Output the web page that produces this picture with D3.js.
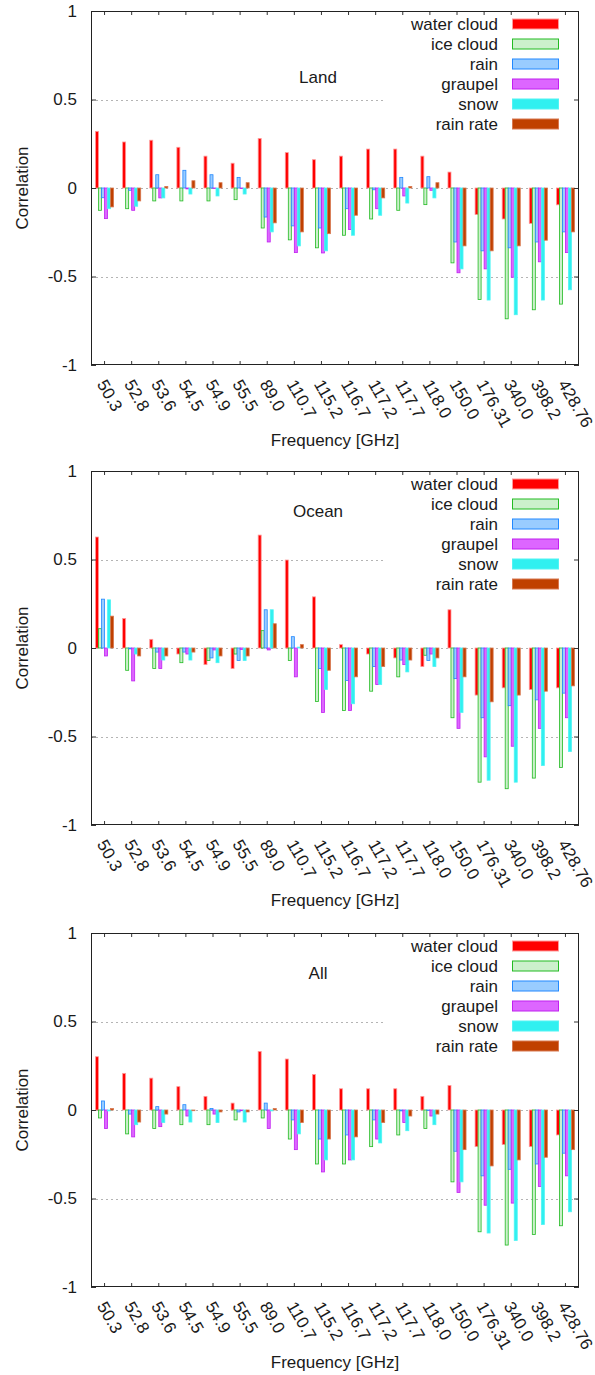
<!DOCTYPE html>
<html><head><meta charset="utf-8">
<script src="https://cdn.jsdelivr.net/npm/d3@7"></script>
<style>
html,body{margin:0;padding:0;background:#fff;}
svg{display:block;}
text{font-family:"Liberation Sans",Arial,Helvetica,sans-serif;fill:#1a1a1a;}
</style></head>
<body>
<svg id="chart" width="595" height="1375"></svg>
<script>
const categories = ["50.3","52.8","53.6","54.5","54.9","55.5","89.0","110.7","115.2","116.7","117.2","117.7","118.0","150.0","176.31","340.0","398.2","428.76"];
const seriesNames = ["water cloud","ice cloud","rain","graupel","snow","rain rate"];
const yTicks = [-1,-0.5,0,0.5,1];
const yTickLabels = ["-1","-0.5","0","0.5","1"];
const panelTitles = ["Land","Ocean","All"];

const landWater   = [0.32,0.26,0.27,0.23,0.18,0.14,0.28,0.20,0.16,0.18,0.22,0.22,0.18,0.09,-0.15,-0.175,-0.20,-0.095];
const landIce     = [-0.126,-0.117,-0.073,-0.073,-0.073,-0.066,-0.226,-0.293,-0.338,-0.267,-0.175,-0.126,-0.094,-0.423,-0.63,-0.739,-0.688,-0.656];
const landRain    = [-0.055,-0.013,0.075,0.10,0.075,0.06,-0.164,-0.214,-0.226,-0.117,-0.01,0.06,0.064,-0.305,-0.355,-0.338,-0.305,-0.248];
const landGraupel = [-0.173,-0.126,-0.056,-0.005,-0.003,-0.003,-0.305,-0.365,-0.367,-0.235,-0.117,-0.045,-0.013,-0.479,-0.457,-0.504,-0.417,-0.365];
const landSnow    = [-0.117,-0.103,-0.056,-0.034,-0.045,-0.034,-0.248,-0.327,-0.355,-0.267,-0.154,-0.085,-0.056,-0.457,-0.633,-0.716,-0.633,-0.575];
const landRate    = [-0.107,-0.073,0.009,0.041,0.03,0.03,-0.197,-0.248,-0.258,-0.154,-0.056,0.009,0.03,-0.327,-0.355,-0.327,-0.295,-0.248];

const oceanWater   = [0.627,0.167,0.049,-0.034,-0.094,-0.116,0.638,0.497,0.289,0.019,-0.034,-0.056,-0.105,0.216,-0.266,-0.225,-0.235,-0.225];
const oceanIce     = [0.109,-0.126,-0.116,-0.083,-0.071,-0.034,0.098,-0.071,-0.302,-0.353,-0.244,-0.163,-0.041,-0.394,-0.758,-0.795,-0.735,-0.675];
const oceanRain    = [0.276,-0.005,-0.023,-0.023,-0.056,-0.071,0.216,0.064,-0.116,-0.184,-0.105,-0.068,-0.071,-0.173,-0.394,-0.326,-0.293,-0.255];
const oceanGraupel = [-0.045,-0.186,-0.116,-0.034,-0.011,-0.008,-0.011,-0.163,-0.364,-0.353,-0.206,-0.094,-0.034,-0.454,-0.615,-0.555,-0.454,-0.394];
const oceanSnow    = [0.272,-0.034,-0.068,-0.068,-0.083,-0.071,0.216,0.005,-0.235,-0.315,-0.206,-0.135,-0.105,-0.364,-0.747,-0.758,-0.664,-0.585];
const oceanRate    = [0.18,-0.045,-0.045,-0.023,-0.045,-0.045,0.137,0.019,-0.126,-0.163,-0.105,-0.068,-0.056,-0.163,-0.304,-0.266,-0.244,-0.214];

const allWater   = [0.301,0.207,0.18,0.132,0.077,0.039,0.331,0.288,0.201,0.12,0.12,0.12,0.077,0.139,-0.207,-0.195,-0.207,-0.141];
const allIce     = [-0.045,-0.135,-0.105,-0.083,-0.083,-0.056,-0.045,-0.164,-0.305,-0.305,-0.207,-0.141,-0.105,-0.406,-0.688,-0.763,-0.703,-0.654];
const allRain    = [0.051,-0.023,0.019,0.03,0.008,-0.011,0.039,-0.056,-0.164,-0.141,-0.056,-0.005,-0.003,-0.233,-0.372,-0.335,-0.305,-0.244];
const allGraupel = [-0.105,-0.152,-0.094,-0.034,-0.023,-0.004,-0.105,-0.224,-0.35,-0.282,-0.164,-0.071,-0.034,-0.466,-0.538,-0.526,-0.432,-0.372];
const allSnow    = [-0.005,-0.083,-0.071,-0.068,-0.071,-0.068,-0.005,-0.135,-0.282,-0.282,-0.186,-0.117,-0.083,-0.406,-0.695,-0.737,-0.647,-0.575];
const allRate    = [0.008,-0.068,-0.023,-0.004,-0.011,-0.011,0.008,-0.071,-0.164,-0.152,-0.071,-0.034,-0.023,-0.224,-0.316,-0.282,-0.267,-0.224];

const panelData = [
  [landWater,landIce,landRain,landGraupel,landSnow,landRate],
  [oceanWater,oceanIce,oceanRain,oceanGraupel,oceanSnow,oceanRate],
  [allWater,allIce,allRain,allGraupel,allSnow,allRate]
];

const fills   = ["#ff0000","#ccf0cc","#99ccff","#dd66ff","#30f0f0","#c04000"];
const strokes = ["#ff9a9a","#22bb22","#2288ff","#c020f0","#50f4f4","#d87850"];

const svg = d3.select("#chart");
const left = 91, right = 579, plotH = 354;
const panelTops = [11, 471, 933];
const titleDy = [66, 40, 40];

const x = d3.scaleBand().domain(categories).range([left, right]).paddingInner(0).paddingOuter(0);
const bw = x.bandwidth();
const xs = d3.scaleBand().domain(seriesNames).range([bw*1.5/9, bw*7.5/9]).padding(0);

panelTops.forEach((top, p) => {
  const bottom = top + plotH;
  const y = d3.scaleLinear().domain([-1,1]).range([bottom, top]);
  const g = svg.append("g");

  // grid
  [0.5, 0, -0.5].forEach(v => {
    g.append("line").attr("x1", left).attr("x2", right).attr("y1", Math.round(y(v))+0.5).attr("y2", Math.round(y(v))+0.5)
      .attr("stroke", "#b4b4b4").attr("stroke-width", 1).attr("stroke-dasharray", "2,3");
  });

  // bars
  panelData[p].forEach((vals, si) => {
    g.append("g").selectAll("rect").data(vals).join("rect")
      .attr("x", (d,i) => x(categories[i]) + xs(seriesNames[si]))
      .attr("width", xs.bandwidth())
      .attr("y", d => y(Math.max(0,d)))
      .attr("height", d => Math.abs(y(d) - y(0)))
      .attr("fill", fills[si])
      .attr("stroke", strokes[si])
      .attr("stroke-width", 0.8);
  });

  // legend (opaque box)
  g.append("rect").attr("x", 386).attr("y", top+1).attr("width", right-386-1).attr("height", 125).attr("fill", "#fff");
  seriesNames.forEach((name, si) => {
    const cy = top + 13 + si*20;
    g.append("text").attr("x", 498).attr("y", cy).attr("dy", "0.35em").attr("text-anchor", "end")
      .attr("font-size", 17).text(name);
    g.append("rect").attr("x", 512.5).attr("y", cy-5).attr("width", 46).attr("height", 10)
      .attr("fill", fills[si]).attr("stroke", strokes[si]).attr("stroke-width", 1);
  });

  // axes
  const yAxisL = d3.axisLeft(y).tickValues(yTicks).tickSize(-5).tickPadding(14).tickFormat((d,i) => yTickLabels[i]);
  const gl = g.append("g").attr("transform", `translate(${left},0)`).call(yAxisL);
  const yAxisR = d3.axisRight(y).tickValues(yTicks).tickSize(-5).tickFormat("");
  const gr = g.append("g").attr("transform", `translate(${right},0)`).call(yAxisR);
  const xAxisB = d3.axisBottom(x).tickSize(-4).tickFormat("");
  const gb = g.append("g").attr("transform", `translate(0,${bottom})`).call(xAxisB);
  const xAxisT = d3.axisTop(x).tickSize(-4).tickFormat("");
  const gt = g.append("g").attr("transform", `translate(0,${top})`).call(xAxisT);
  [gl,gr,gb,gt].forEach(a => {
    a.select(".domain").remove();
    a.selectAll(".tick line").attr("stroke", "#333");
  });
  gl.selectAll(".tick text").attr("font-size", 17).attr("font-family", "Liberation Sans, Arial, sans-serif").attr("fill", "#1a1a1a");

  // border
  g.append("rect").attr("x", left+0.5).attr("y", top+0.5).attr("width", right-left-1).attr("height", plotH-1)
    .attr("fill", "none").attr("stroke", "#222").attr("stroke-width", 1);

  // x tick labels rotated
  g.append("g").selectAll("text").data(categories).join("text")
    .attr("transform", d => `translate(${x(d)+bw/2-8},${bottom+19}) rotate(60)`)
    .attr("font-size", 17).attr("text-anchor", "start").text(d => d);

  // axis titles
  g.append("text").attr("transform", `translate(22,${y(0)}) rotate(-90)`).attr("text-anchor", "middle")
    .attr("dy", "0.35em").attr("font-size", 17).text("Correlation");
  g.append("text").attr("x", 335).attr("y", bottom+75).attr("dy", "0.35em").attr("text-anchor", "middle")
    .attr("font-size", 17).text("Frequency [GHz]");

  // panel title
  g.append("text").attr("x", 318).attr("y", top + titleDy[p]).attr("dy", "0.35em").attr("text-anchor", "middle")
    .attr("font-size", 17).text(panelTitles[p]);
});
</script>
</body></html>
